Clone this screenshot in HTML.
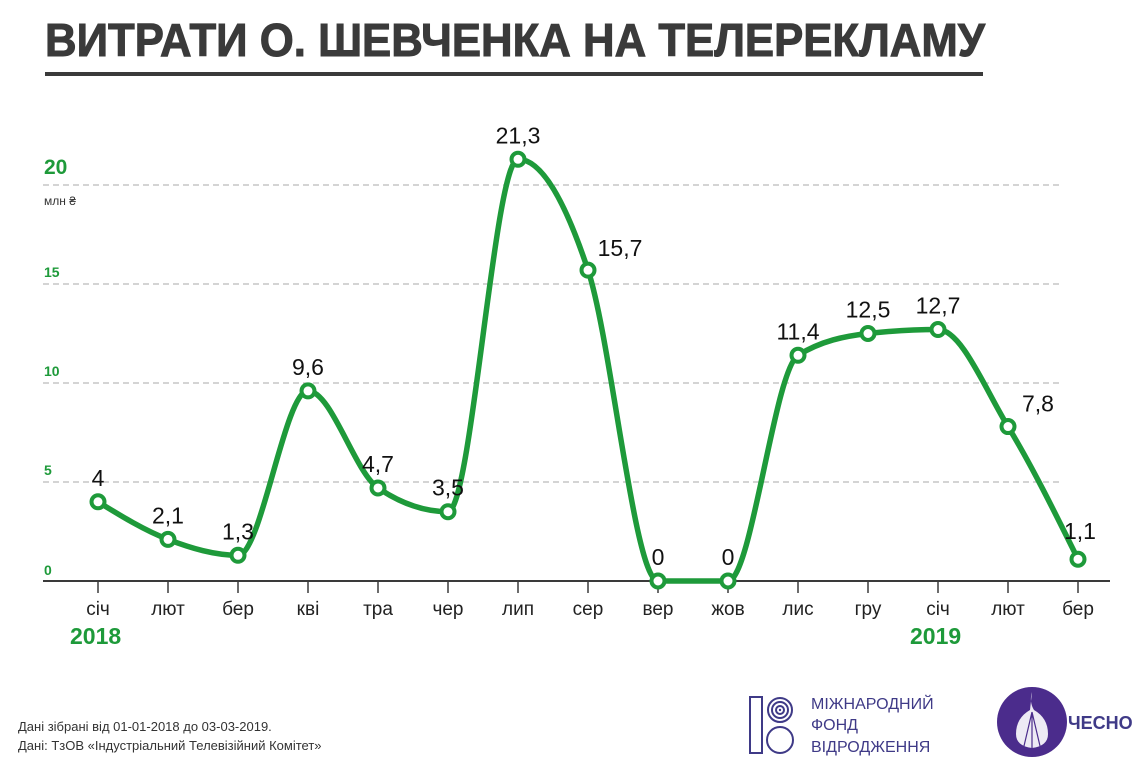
<!DOCTYPE html>
<html><head><meta charset="utf-8">
<style>
html,body{margin:0;padding:0;background:#fff;}
body{width:1145px;height:771px;overflow:hidden;position:relative;font-family:"Liberation Sans",sans-serif;}
svg{position:absolute;left:0;top:0;}
</style></head>
<body>
<svg id="s" width="1145" height="771" viewBox="0 0 1145 771" xmlns="http://www.w3.org/2000/svg">
<text x="45" y="56" font-family="'Liberation Sans Narrow','Liberation Sans',sans-serif" font-weight="bold" font-size="46" fill="#3a3a3a" stroke="#3a3a3a" stroke-width="1" textLength="940" lengthAdjust="spacingAndGlyphs">ВИТРАТИ О. ШЕВЧЕНКА НА ТЕЛЕРЕКЛАМУ</text>
<rect x="45" y="72" width="938" height="4" fill="#3a3a3a"/>
<g stroke="#aaa" stroke-width="1" stroke-dasharray="6,4">
<line x1="43" y1="185" x2="1062" y2="185"/>
<line x1="43" y1="284" x2="1062" y2="284"/>
<line x1="43" y1="383" x2="1062" y2="383"/>
<line x1="43" y1="482" x2="1062" y2="482"/>
</g>
<g font-family="'Liberation Sans',sans-serif" font-weight="bold" fill="#1e9a3a">
<text x="44" y="174" font-size="21">20</text>
<text x="44" y="277" font-size="14">15</text>
<text x="44" y="376" font-size="14">10</text>
<text x="44" y="475" font-size="14">5</text>
<text x="44" y="575" font-size="14">0</text>
<text x="70" y="644" font-size="23">2018</text>
<text x="910" y="644" font-size="23">2019</text>
</g>
<text x="44" y="205" font-size="12" fill="#333">млн ₴</text>
<line x1="43" y1="581" x2="1110" y2="581" stroke="#3a3a3a" stroke-width="2"/>
<g id="ticks" stroke="#3a3a3a" stroke-width="1.5"></g>
<g id="mon" font-family="'Liberation Sans Narrow','Liberation Sans',sans-serif" font-size="19" fill="#222" text-anchor="middle"></g>
<path id="curve" fill="none" stroke="#1e9a3a" stroke-width="5.5" stroke-linejoin="round"/>
<g id="pts"></g>
<g id="lbl" font-family="'Liberation Sans Narrow','Liberation Sans',sans-serif" font-size="23" fill="#111" text-anchor="middle"></g>
<text x="18" y="731" font-size="13" fill="#333">Дані зібрані від 01-01-2018 до 03-03-2019.</text>
<text x="18" y="750" font-size="13" fill="#333">Дані: ТзОВ «Індустріальний Телевізійний Комітет»</text>
<g stroke="#3f3a87" stroke-width="2" fill="none">
<rect x="750" y="697" width="12" height="56"/>
<circle cx="780" cy="710" r="12"/><circle cx="780" cy="710" r="8"/><circle cx="780" cy="710" r="4"/>
<circle cx="780" cy="740" r="13"/>
</g>
<circle cx="780" cy="710" r="1.2" fill="#3f3a87"/>
<g font-size="16" fill="#3f3a87" font-family="'Liberation Sans',sans-serif">
<text x="811" y="709">МІЖНАРОДНИЙ</text>
<text x="811" y="730">ФОНД</text>
<text x="811" y="752">ВІДРОДЖЕННЯ</text>
</g>
<circle cx="1032" cy="722" r="35" fill="#4b2c8c"/>
<path d="M1032 692 q-3 10 2 18 q14 8 14 24 q0 12 -16 14 q-16 -2 -16 -14 q0 -16 14 -24" fill="#fff" opacity="0.9"/>
<path d="M1032 712 l-8 34 M1032 712 l0 36 M1032 712 l8 34" stroke="#4b2c8c" stroke-width="1.2" fill="none"/>
<text x="1068" y="729" font-size="18" font-weight="bold" fill="#3f3a87">ЧЕСНО</text>
</svg>
<script>
var v=[4,2.1,1.3,9.6,4.7,3.5,21.3,15.7,0,0,11.4,12.5,12.7,7.8,1.1];
var lab=["4","2,1","1,3","9,6","4,7","3,5","21,3","15,7","0","0","11,4","12,5","12,7","7,8","1,1"];
var m=["січ","лют","бер","кві","тра","чер","лип","сер","вер","жов","лис","гру","січ","лют","бер"];
var X=function(i){return 98+70*i;},Y=function(a){return 581-a*19.8;};
var ns="http://www.w3.org/2000/svg";
function el(t,a,p,txt){var e=document.createElementNS(ns,t);for(var k in a)e.setAttribute(k,a[k]);if(txt)e.textContent=txt;document.getElementById(p).appendChild(e);}
var n=v.length,x=[],y=[];for(var i=0;i<n;i++){x.push(X(i));y.push(Y(v[i]));}
var d=[],t=[];for(i=0;i<n-1;i++)d.push((y[i+1]-y[i])/(x[i+1]-x[i]));
for(i=0;i<n;i++)t.push(0);
for(i=1;i<n-1;i++){var s0=d[i-1],s1=d[i],p=(s0+s1)/2;t[i]=(Math.sign(s0)+Math.sign(s1))*Math.min(Math.abs(s0),Math.abs(s1),0.5*Math.abs(p))||0;}
t[0]=(3*d[0]-t[1])/2;t[n-1]=(3*d[n-2]-t[n-2])/2;
var P="M"+x[0]+","+y[0];
for(i=0;i<n-1;i++){var dx=(x[i+1]-x[i])/3;P+=" C"+(x[i]+dx)+","+(y[i]+dx*t[i])+" "+(x[i+1]-dx)+","+(y[i+1]-dx*t[i+1])+" "+x[i+1]+","+y[i+1];}
document.getElementById("curve").setAttribute("d",P);
var off={7:[32,-14],13:[30,-15],14:[2,-20]};
for(i=0;i<n;i++){
el("line",{x1:x[i],y1:581,x2:x[i],y2:593},"ticks");
el("text",{x:x[i],y:615},"mon",m[i]);
el("circle",{cx:x[i],cy:y[i],r:6.5,fill:"#fff",stroke:"#1e9a3a","stroke-width":4},"pts");
var o=off[i]||[0,-16];
el("text",{x:x[i]+o[0],y:y[i]+o[1]},"lbl",lab[i]);
}
</script>
</body></html>
